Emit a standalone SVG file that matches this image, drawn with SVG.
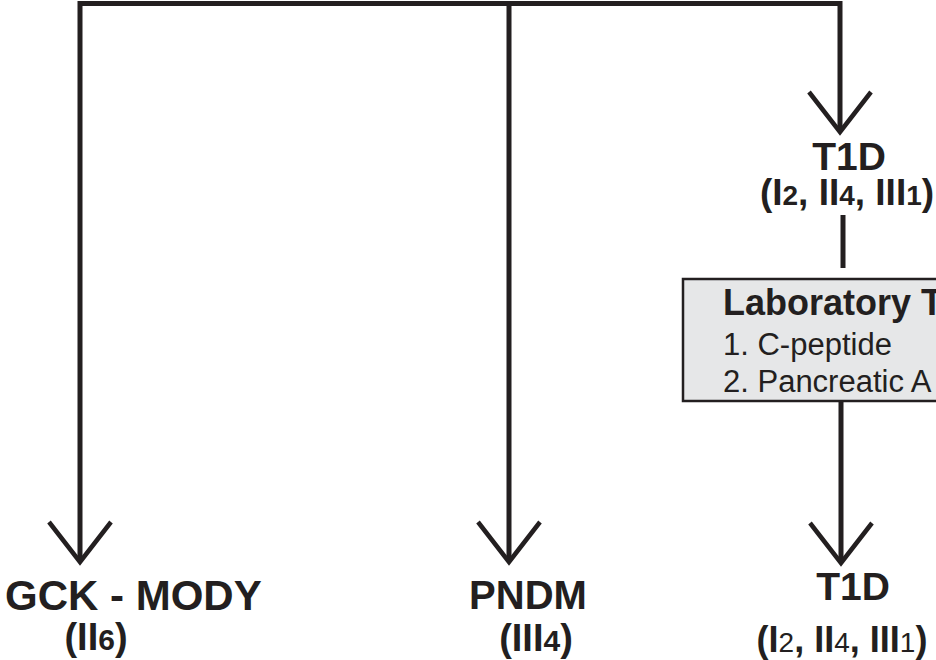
<svg xmlns="http://www.w3.org/2000/svg" width="936" height="660" viewBox="0 0 936 660">
<style>
.ln{fill:none;stroke:#231f20;stroke-width:5;stroke-linecap:butt;stroke-linejoin:miter}
.ah{fill:none;stroke:#231f20;stroke-width:4.5;stroke-linejoin:miter}
.t{font-family:"Liberation Sans",Arial,Helvetica,sans-serif;fill:#231f20;font-weight:bold}
.r{font-family:"Liberation Sans",Arial,Helvetica,sans-serif;fill:#231f20}
.box{fill:#e6e7e8;stroke:#231f20;stroke-width:2.5}
</style>
<rect width="936" height="660" fill="#ffffff"/>
<g id="connectors">
<path class="ln" d="M80,562 V3.5 H840 V132"/>
<path class="ln" d="M509,3.5 V562"/>
<path class="ln" d="M843,215 V268" stroke-width="4.5"/>
<path class="ln" d="M841,401 V562"/>
<path class="ah" d="M49,522 L80,562 L111,522"/>
<path class="ah" d="M478,522 L509,562 L540,522"/>
<path class="ah" d="M809,92 L840,132 L871,92"/>
<path class="ah" d="M810,523 L841,563 L872,523"/>
</g>
<g id="node-t1d-top">
<text class="t" x="849" y="170" font-size="39" text-anchor="middle">T1D</text>
<text class="t" x="847" y="205" font-size="37" text-anchor="middle">(I<tspan font-size="28">2</tspan>, II<tspan font-size="28">4</tspan>, III<tspan font-size="28">1</tspan>)</text>
</g>
<g id="node-lab">
<rect class="box" x="683" y="279" width="260" height="122"/>
<text class="t" x="723" y="315" font-size="36">Laboratory T</text>
<text class="r" x="723" y="355" font-size="31">1. C-peptide</text>
<text class="r" x="723" y="392" font-size="31">2. Pancreatic A</text>
</g>
<g id="node-gck">
<text class="t" x="5" y="610" font-size="42">GCK - MODY</text>
<text class="t" x="96" y="650" font-size="38" text-anchor="middle">(II<tspan font-size="30">6</tspan>)</text>
</g>
<g id="node-pndm">
<text class="t" x="528" y="609" font-size="40" text-anchor="middle">PNDM</text>
<text class="t" x="536" y="651" font-size="38" text-anchor="middle">(III<tspan font-size="30">4</tspan>)</text>
</g>
<g id="node-t1d-bottom">
<text class="t" x="853" y="600" font-size="39" text-anchor="middle">T1D</text>
<text class="t" x="842" y="652" font-size="36" text-anchor="middle">(I<tspan font-size="28" font-weight="normal">2</tspan>, II<tspan font-size="28" font-weight="normal">4</tspan>, III<tspan font-size="28" font-weight="normal">1</tspan>)</text>
</g>
</svg>
